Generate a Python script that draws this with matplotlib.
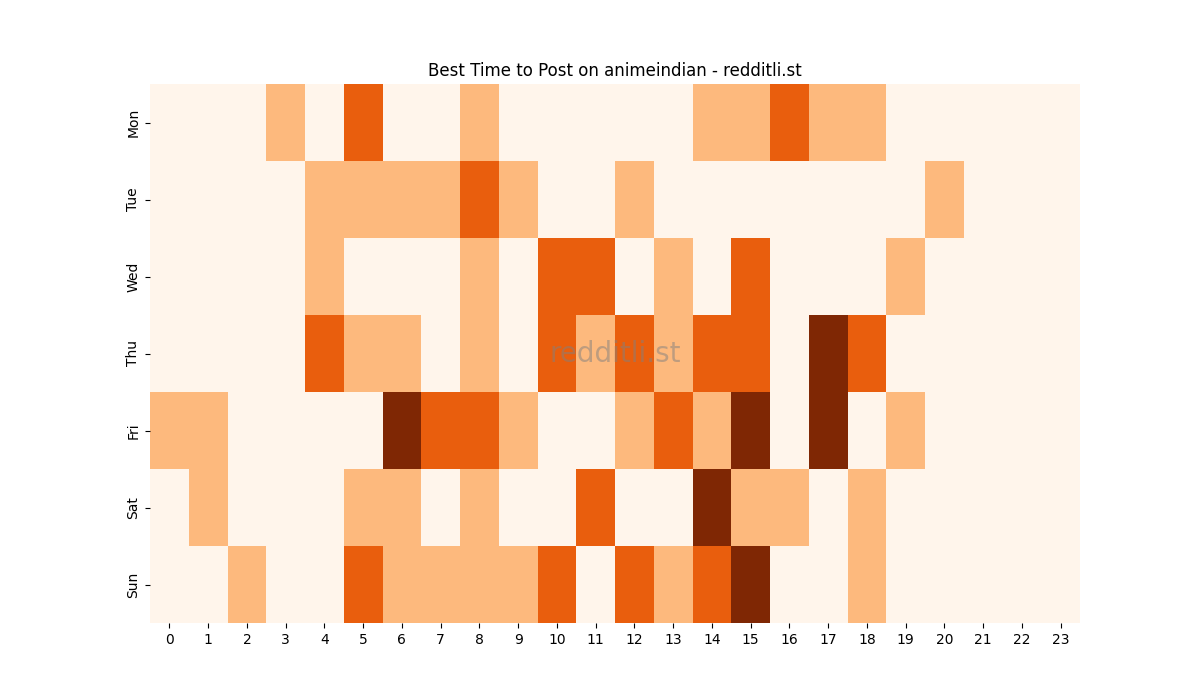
import matplotlib
matplotlib.use("Agg")
import matplotlib.pyplot as plt
import seaborn as sns
import numpy as np

days = ["Mon", "Tue", "Wed", "Thu", "Fri", "Sat", "Sun"]
hours = list(range(24))

# activity level per hour (0-3)
mon = [0, 0, 0, 1, 0, 2, 0, 0, 1, 0, 0, 0, 0, 0, 1, 1, 2, 1, 1, 0, 0, 0, 0, 0]
tue = [0, 0, 0, 0, 1, 1, 1, 1, 2, 1, 0, 0, 1, 0, 0, 0, 0, 0, 0, 0, 1, 0, 0, 0]
wed = [0, 0, 0, 0, 1, 0, 0, 0, 1, 0, 2, 2, 0, 1, 0, 2, 0, 0, 0, 1, 0, 0, 0, 0]
thu = [0, 0, 0, 0, 2, 1, 1, 0, 1, 0, 2, 1, 2, 1, 2, 2, 0, 3, 2, 0, 0, 0, 0, 0]
fri = [1, 1, 0, 0, 0, 0, 3, 2, 2, 1, 0, 0, 1, 2, 1, 3, 0, 3, 0, 1, 0, 0, 0, 0]
sat = [0, 1, 0, 0, 0, 1, 1, 0, 1, 0, 0, 2, 0, 0, 3, 1, 1, 0, 1, 0, 0, 0, 0, 0]
sun = [0, 0, 1, 0, 0, 2, 1, 1, 1, 1, 2, 0, 2, 1, 2, 3, 0, 0, 1, 0, 0, 0, 0, 0]

data = np.array([mon, tue, wed, thu, fri, sat, sun])

fig, ax = plt.subplots(figsize=(12, 7), dpi=100)
sns.heatmap(data, cmap="Oranges", cbar=False, ax=ax,
            xticklabels=hours, yticklabels=days)
ax.set_title("Best Time to Post on animeindian - redditli.st")
ax.text(0.5, 0.5, "redditli.st", transform=ax.transAxes, fontsize=20,
        color="gray", alpha=0.5, ha="center", va="center")

plt.savefig("out.png")
